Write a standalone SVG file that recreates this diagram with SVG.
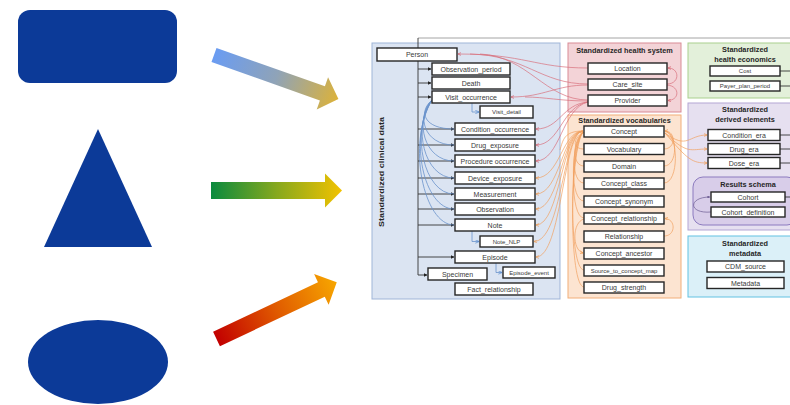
<svg xmlns="http://www.w3.org/2000/svg" width="790" height="405" viewBox="0 0 790 405">
<defs>
<linearGradient id="g1" x1="0" y1="0" x2="1" y2="0"><stop offset="0" stop-color="#6a9cf2"/><stop offset="0.5" stop-color="#8fa3b8"/><stop offset="1" stop-color="#dcb23a"/></linearGradient>
<linearGradient id="g2" x1="0" y1="0" x2="1" y2="0"><stop offset="0" stop-color="#0a8a3e"/><stop offset="0.5" stop-color="#86a81e"/><stop offset="1" stop-color="#f2c200"/></linearGradient>
<linearGradient id="g3" x1="0" y1="0" x2="1" y2="0"><stop offset="0" stop-color="#c20000"/><stop offset="0.5" stop-color="#e05a00"/><stop offset="1" stop-color="#f7a600"/></linearGradient>
<marker id="ad" viewBox="0 0 6 6" refX="5.5" refY="3" markerWidth="4" markerHeight="4" orient="auto"><path d="M0,0 L6,3 L0,6 z" fill="#222"/></marker>
<marker id="ar" viewBox="0 0 6 6" refX="5.5" refY="3" markerWidth="5" markerHeight="5" orient="auto"><path d="M0,0.5 L6,3 L0,5.5" fill="none" stroke="#d2525f" stroke-width="1"/></marker>
<marker id="ao" viewBox="0 0 6 6" refX="5.5" refY="3" markerWidth="5" markerHeight="5" orient="auto"><path d="M0,0.5 L6,3 L0,5.5" fill="none" stroke="#ee9340" stroke-width="1"/></marker>
<marker id="ab" viewBox="0 0 6 6" refX="5.5" refY="3" markerWidth="5" markerHeight="5" orient="auto"><path d="M0,0.5 L6,3 L0,5.5" fill="none" stroke="#4f86cf" stroke-width="1"/></marker>
<marker id="ag" viewBox="0 0 6 6" refX="5.5" refY="3" markerWidth="4" markerHeight="4" orient="auto"><path d="M0,0 L6,3 L0,6 z" fill="#6a5a90"/></marker>
</defs>
<style>
.shape{fill:#0c3a98}
.box{fill:#fff;stroke:#262626;stroke-width:1.4}
.t{font-family:"Liberation Sans","DejaVu Sans",sans-serif;font-size:7px;fill:#3a3a3a;text-anchor:middle}
.ts{font-size:6px}
.h{font-family:"Liberation Sans","DejaVu Sans",sans-serif;font-size:7.3px;font-weight:bold;fill:#262626;text-anchor:middle}
.dk{fill:none;stroke:#333;stroke-width:0.9}
.gr{fill:none;stroke:#9a9a9a;stroke-width:0.9}
.rd{fill:none;stroke:#d8707c;stroke-width:0.7}
.or{fill:none;stroke:#f0a060;stroke-width:0.7}
.bl{fill:none;stroke:#6b93cc;stroke-width:0.8}
</style>
<rect width="790" height="405" fill="#fff"/>

<!-- left shapes -->
<g id="shape-rectangle"><rect class="shape" x="18" y="10" width="159" height="73" rx="12"/></g>
<g id="shape-triangle"><polygon class="shape" points="98,129 152,247 44,247"/></g>
<g id="shape-ellipse"><ellipse class="shape" cx="98" cy="362" rx="70" ry="42"/></g>

<!-- gradient arrows -->
<g id="arrow-blue" transform="translate(214,55) rotate(19.5)"><polygon points="0,-7.5 115,-7.5 115,-17 132,0 115,17 115,7.5 0,7.5" fill="url(#g1)"/></g>
<g id="arrow-green" transform="translate(211,190.5)"><polygon points="0,-8.5 114,-8.5 114,-17 131,0 114,17 114,8.5 0,8.5" fill="url(#g2)"/></g>
<g id="arrow-red" transform="translate(216.5,339) rotate(-25.3)"><polygon points="0,-8 116,-8 116,-17 133,0 116,17 116,8 0,8" fill="url(#g3)"/></g>

<!-- panels -->
<g id="panel-clinical"><rect x="372" y="43" width="188" height="256" fill="#dbe4f2" stroke="#9fb5d8" stroke-width="1"/>
<text class="h" transform="translate(384,172) rotate(-90)" font-size="8.8" textLength="110" lengthAdjust="spacingAndGlyphs">Standardized clinical data</text></g>
<g id="panel-health-system"><rect x="568" y="43" width="113" height="69" fill="#f3d3d7" stroke="#d98b95" stroke-width="1"/><text class="h" x="624.5" y="52.5">Standardized health system</text></g>
<g id="panel-vocabularies"><rect x="568" y="115" width="113" height="183" fill="#fce4d1" stroke="#f2ae78" stroke-width="1"/><text class="h" x="624.5" y="122.5">Standardized vocabularies</text></g>
<g id="panel-health-economics"><rect x="688" y="43" width="106" height="55" fill="#e3f0da" stroke="#a9d08e" stroke-width="1"/><text class="h" x="745" y="52">Standardized</text><text class="h" x="745" y="61.5">health economics</text></g>
<g id="panel-derived"><rect x="688" y="103" width="106" height="127" fill="#e6e0f0" stroke="#b3a6d4" stroke-width="1"/><text class="h" x="745" y="112">Standardized</text><text class="h" x="745" y="121.5">derived elements</text></g>
<g id="panel-results"><rect x="693" y="177" width="104" height="48" rx="10" fill="#d8cde9" stroke="#8c7bbf" stroke-width="1"/><text class="h" x="748" y="187">Results schema</text></g>
<g id="panel-metadata"><rect x="688" y="236" width="106" height="61" fill="#dbf0f8" stroke="#62c2e2" stroke-width="1"/><text class="h" x="745" y="246">Standardized</text><text class="h" x="745" y="255.5">metadata</text></g>

<!-- connectors -->
<g id="connectors">
<path class="gr" d="M418,38 H790"/>
<path class="dk" d="M418,38 V275 H427" marker-end="url(#ad)"/>
<path class="dk" d="M418,69 H431" marker-end="url(#ad)"/>
<path class="dk" d="M418,83 H431" marker-end="url(#ad)"/>
<path class="dk" d="M418,97 H431" marker-end="url(#ad)"/>
<path class="dk" d="M418,129 H454" marker-end="url(#ad)"/>
<path class="dk" d="M418,145 H454" marker-end="url(#ad)"/>
<path class="dk" d="M418,161 H454" marker-end="url(#ad)"/>
<path class="dk" d="M418,178 H454" marker-end="url(#ad)"/>
<path class="dk" d="M418,194 H454" marker-end="url(#ad)"/>
<path class="dk" d="M418,209 H454" marker-end="url(#ad)"/>
<path class="dk" d="M418,225 H454" marker-end="url(#ad)"/>
<path class="dk" d="M418,257 H454" marker-end="url(#ad)"/>
<path class="dk" d="M780,71 H790"/>
<path class="dk" d="M780,86 H790"/>
<path class="dk" d="M785,197 H790"/>
<path class="dk" d="M780,135 H790"/>
<path class="dk" d="M780,149 H790"/>
<path class="dk" d="M780,163 H790"/>
<!-- blue: parent to child -->
<path class="bl" d="M472,103 V112 H479" marker-end="url(#ab)"/>
<path class="bl" d="M472,231 V241.5 H479" marker-end="url(#ab)"/>
<path class="bl" d="M496,263 V272.5 H502" marker-end="url(#ab)"/>
<!-- blue: visit_occurrence to events -->
<path class="bl" d="M432,100 C418,112 424,129 454,129"/>
<path class="bl" d="M432,100 C416,116 424,145 454,145"/>
<path class="bl" d="M432,100 C414,120 424,161 454,161"/>
<path class="bl" d="M432,100 C412,126 424,178 454,178"/>
<path class="bl" d="M432,100 C410,132 424,194 454,194"/>
<path class="bl" d="M432,100 C408,138 424,209 454,209"/>
<path class="bl" d="M432,100 C406,144 424,225 454,225"/>
<!-- red: health system -->
<path class="rd" d="M588,68 C535,68 525,54 458,54" marker-end="url(#ar)"/>
<path class="rd" d="M588,84 C540,84 525,55 470,54"/>
<path class="rd" d="M588,100 C545,100 528,56 480,54"/>
<path class="rd" d="M588,85 C555,85 545,97 511,97" marker-end="url(#ar)"/>
<path class="rd" d="M588,101 C560,101 545,97 525,97"/>
<path class="rd" d="M588,102 C562,104 560,129 536,129" marker-end="url(#ar)"/>
<path class="rd" d="M588,102 C562,106 560,145 536,145" marker-end="url(#ar)"/>
<path class="rd" d="M588,102 C562,108 560,161 536,161" marker-end="url(#ar)"/>
<path class="rd" d="M667,84 C680,84 680,68 668,68" marker-end="url(#ar)"/>
<path class="rd" d="M667,85 C680,86 680,100 668,100.5" marker-end="url(#ar)"/>
<!-- orange: vocabulary to clinical -->
<path class="or" d="M583,131 C562,131 560,178 536,178" marker-end="url(#ao)"/>
<path class="or" d="M583,131 C562,131 560,194 536,194" marker-end="url(#ao)"/>
<path class="or" d="M583,131 C562,131 560,209 536,209" marker-end="url(#ao)"/>
<path class="or" d="M583,131 C562,131 560,225 536,225" marker-end="url(#ao)"/>
<path class="or" d="M583,131 C563,131 562,241 534,241.5" marker-end="url(#ao)"/>
<path class="or" d="M583,131 C563,131 562,257 536,257" marker-end="url(#ao)"/>
<path class="or" d="M583,131 C564,131 563,140 560,150"/>
<!-- orange: vocabulary internal -->
<path class="or" d="M584,149 C573,149 572,140 583,132" marker-end="url(#ao)"/>
<path class="or" d="M584,166 C572,166 572,142 583,132"/>
<path class="or" d="M584,183 C571,183 571,144 583,132"/>
<path class="or" d="M584,201 C570,201 570,146 583,132"/>
<path class="or" d="M584,218 C570,218 570,148 583,132"/>
<path class="or" d="M584,270 C569,270 569,150 583,132"/>
<path class="or" d="M584,287 C569,287 569,152 583,132"/>
<path class="or" d="M584,219 C572,222 572,250 583,253" marker-end="url(#ao)"/>
<path class="or" d="M664,149 C676,149 676,131 665,131" marker-end="url(#ao)"/>
<path class="or" d="M664,166 C678,166 678,133 665,131"/>
<path class="or" d="M664,183 C679,183 679,135 665,131"/>
<path class="or" d="M664,236 C676,236 676,219 665,218.5" marker-end="url(#ao)"/>
<!-- orange: vocabulary to derived -->
<path class="or" d="M665,133 C688,150 688,135 707,135" marker-end="url(#ao)"/>
<path class="or" d="M665,133 C688,155 690,149 707,149" marker-end="url(#ao)"/>
<path class="or" d="M665,133 C688,160 692,163 707,163" marker-end="url(#ao)"/>
<!-- results schema loop -->
<path fill="none" stroke="#6a5a90" stroke-width="0.7" d="M711,212 C688,214 688,197 710,197" marker-end="url(#ag)"/>
</g>

<!-- clinical tables -->
<g id="person"><rect class="box" x="377" y="48" width="80" height="13"/><text class="t" x="417" y="57">Person</text></g>
<g id="observation-period"><rect class="box" x="432" y="63" width="78" height="12"/><text class="t" x="471" y="71.5">Observation_period</text></g>
<g id="death"><rect class="box" x="432" y="77" width="78" height="12"/><text class="t" x="471" y="85.5">Death</text></g>
<g id="visit-occurrence"><rect class="box" x="432" y="91" width="78" height="12"/><text class="t" x="471" y="99.5">Visit_occurrence</text></g>
<g id="visit-detail"><rect class="box" x="480" y="106" width="53" height="12"/><text class="t ts" x="506.5" y="114">Visit_detail</text></g>
<g id="condition-occurrence"><rect class="box" x="455" y="123" width="80" height="12"/><text class="t" x="495" y="131.5">Condition_occurrence</text></g>
<g id="drug-exposure"><rect class="box" x="455" y="139" width="80" height="12"/><text class="t" x="495" y="147.5">Drug_exposure</text></g>
<g id="procedure-occurrence"><rect class="box" x="455" y="155" width="80" height="12"/><text class="t" x="495" y="163.5">Procedure occurrence</text></g>
<g id="device-exposure"><rect class="box" x="455" y="172" width="80" height="12"/><text class="t" x="495" y="180.5">Device_exposure</text></g>
<g id="measurement"><rect class="box" x="455" y="188" width="80" height="12"/><text class="t" x="495" y="196.5">Measurement</text></g>
<g id="observation"><rect class="box" x="455" y="203" width="80" height="12"/><text class="t" x="495" y="211.5">Observation</text></g>
<g id="note"><rect class="box" x="455" y="219" width="80" height="12"/><text class="t" x="495" y="227.5">Note</text></g>
<g id="note-nlp"><rect class="box" x="480" y="236" width="53" height="11"/><text class="t ts" x="506.5" y="243.5">Note_NLP</text></g>
<g id="episode"><rect class="box" x="455" y="251" width="80" height="12"/><text class="t" x="495" y="259.5">Episode</text></g>
<g id="specimen"><rect class="box" x="428" y="268" width="59" height="12"/><text class="t" x="457.5" y="276.5">Specimen</text></g>
<g id="episode-event"><rect class="box" x="503" y="267" width="52" height="11"/><text class="t ts" x="529" y="274.5">Episode_event</text></g>
<g id="fact-relationship"><rect class="box" x="455" y="283" width="78" height="12"/><text class="t" x="494" y="291.5">Fact_relationship</text></g>

<!-- health system -->
<g id="location"><rect class="box" x="588" y="63" width="79" height="11"/><text class="t" x="627.5" y="71">Location</text></g>
<g id="care-site"><rect class="box" x="588" y="79" width="79" height="11"/><text class="t" x="627.5" y="87">Care_site</text></g>
<g id="provider"><rect class="box" x="588" y="95" width="79" height="11"/><text class="t" x="627.5" y="103">Provider</text></g>

<!-- vocabularies -->
<g id="concept"><rect class="box" x="584" y="126" width="80" height="11"/><text class="t" x="624" y="134">Concept</text></g>
<g id="vocabulary"><rect class="box" x="584" y="143.5" width="80" height="11"/><text class="t" x="624" y="151.5">Vocabulary</text></g>
<g id="domain"><rect class="box" x="584" y="161" width="80" height="11"/><text class="t" x="624" y="169">Domain</text></g>
<g id="concept-class"><rect class="box" x="584" y="178" width="80" height="11"/><text class="t" x="624" y="186">Concept_class</text></g>
<g id="concept-synonym"><rect class="box" x="584" y="196" width="80" height="11"/><text class="t" x="624" y="204">Concept_synonym</text></g>
<g id="concept-relationship"><rect class="box" x="584" y="213" width="80" height="11"/><text class="t" x="624" y="221">Concept_relationship</text></g>
<g id="relationship"><rect class="box" x="584" y="231" width="80" height="11"/><text class="t" x="624" y="239">Relationship</text></g>
<g id="concept-ancestor"><rect class="box" x="584" y="248" width="80" height="11"/><text class="t" x="624" y="256">Concept_ancestor</text></g>
<g id="source-to-concept-map"><rect class="box" x="584" y="265" width="80" height="11"/><text class="t ts" x="624" y="272.5">Source_to_concept_map</text></g>
<g id="drug-strength"><rect class="box" x="584" y="282" width="80" height="11"/><text class="t" x="624" y="290">Drug_strength</text></g>

<!-- economics -->
<g id="cost"><rect class="box" x="710" y="66" width="70" height="10"/><text class="t ts" x="745" y="73.3">Cost</text></g>
<g id="payer-plan-period"><rect class="box" x="710" y="81" width="70" height="10"/><text class="t ts" x="745" y="88.3">Payer_plan_period</text></g>

<!-- derived -->
<g id="condition-era"><rect class="box" x="708" y="129.5" width="72" height="11"/><text class="t" x="744" y="137.5">Condition_era</text></g>
<g id="drug-era"><rect class="box" x="708" y="143.5" width="72" height="11"/><text class="t" x="744" y="151.5">Drug_era</text></g>
<g id="dose-era"><rect class="box" x="708" y="157.5" width="72" height="11"/><text class="t" x="744" y="165.5">Dose_era</text></g>

<!-- results -->
<g id="cohort"><rect class="box" x="711" y="192" width="74" height="10"/><text class="t" x="748" y="199.5">Cohort</text></g>
<g id="cohort-definition"><rect class="box" x="711" y="207" width="74" height="10"/><text class="t" x="748" y="214.5">Cohort_definition</text></g>

<!-- metadata -->
<g id="cdm-source"><rect class="box" x="707" y="261" width="77" height="11"/><text class="t" x="745.5" y="269">CDM_source</text></g>
<g id="metadata"><rect class="box" x="707" y="277.5" width="77" height="11"/><text class="t" x="745.5" y="285.5">Metadata</text></g>
</svg>
